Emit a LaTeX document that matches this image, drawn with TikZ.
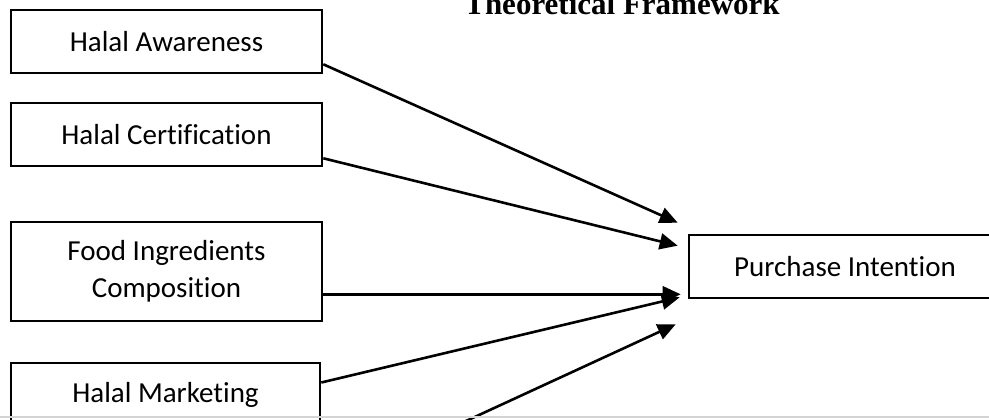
\documentclass[tikz,border=0pt]{standalone}
\usepackage{fontspec}
\setmainfont{Carlito}[Ligatures=NoCommon]
\newfontfamily\titlefont{Liberation Serif}
\usetikzlibrary{arrows.meta,positioning,calc}
\definecolor{FrameBlack}{HTML}{000000}
\definecolor{FrameWhite}{HTML}{ffffff}
\definecolor{PageGray}{HTML}{D4D4D4}
\tikzset{
    % Base node style
    basenode/.style={
        draw=FrameBlack,
        fill=FrameWhite,
        line width=2.6pt,
        minimum width=311pt,
        minimum height=63pt,
        inner sep=0pt,
        align=center,
        font=\fontsize{29}{37}\selectfont
    },
    % Factor box (left column)
    factornode/.style={
        basenode
    },
    % Outcome box
    outcomenode/.style={
        basenode,
        minimum width=312pt
    },
    % Arrow style (straight lines only)
    myarrow/.style={
        -{Triangle[length=18pt,width=16pt]},
        line width=2.6pt,
        draw=FrameBlack
    },
    % Title style
    titlenode/.style={
        anchor=base,
        font=\titlefont\bfseries\fontsize{31}{31}\selectfont
    }
}
\begin{document}
\begin{tikzpicture}[x=1pt, y=-1pt]
    \clip (0,0) rectangle (989,420);

    \node[titlenode] (title) at (622,15) {Theoretical Framework};

    \node[factornode] (aware) at (166.5,41.5) {Halal Awareness};
    \node[factornode] (cert) at (166.5,134.5) {Halal Certification};
    \node[factornode, minimum height=99pt] (food) at (166.5,271.5) {Food Ingredients\\Composition};
    \node[factornode, minimum width=309pt] (mkt) at (165.5,394.5) {Halal Marketing};

    \node[outcomenode] (pi) at (845,266.5) {Purchase Intention};

    \coordinate (t1) at ($(pi.north west)+(-10,-11)$);
    \coordinate (t2) at ($(pi.north west)+(-10,12)$);
    \coordinate (t3) at ($(pi.south west)+(-7,-5)$);
    \coordinate (t4) at ($(pi.south west)+(-8,-2)$);
    \coordinate (t5) at ($(pi.south west)+(-12,25)$);
    \coordinate (cut) at (427,439);

    \draw[myarrow] ($(aware.south east)+(0,-10)$) -- (t1);
    \draw[myarrow] ($(cert.south east)+(0,-9)$) -- (t2);
    \draw[myarrow] (food.east |- t3) -- (t3);
    \draw[myarrow] ($(mkt.east)+(0,-12)$) -- (t4);
    \draw[myarrow] (cut) -- (t5);

    \draw[PageGray, line width=2pt] (0,417) -- (989,417);
\end{tikzpicture}
\end{document}
